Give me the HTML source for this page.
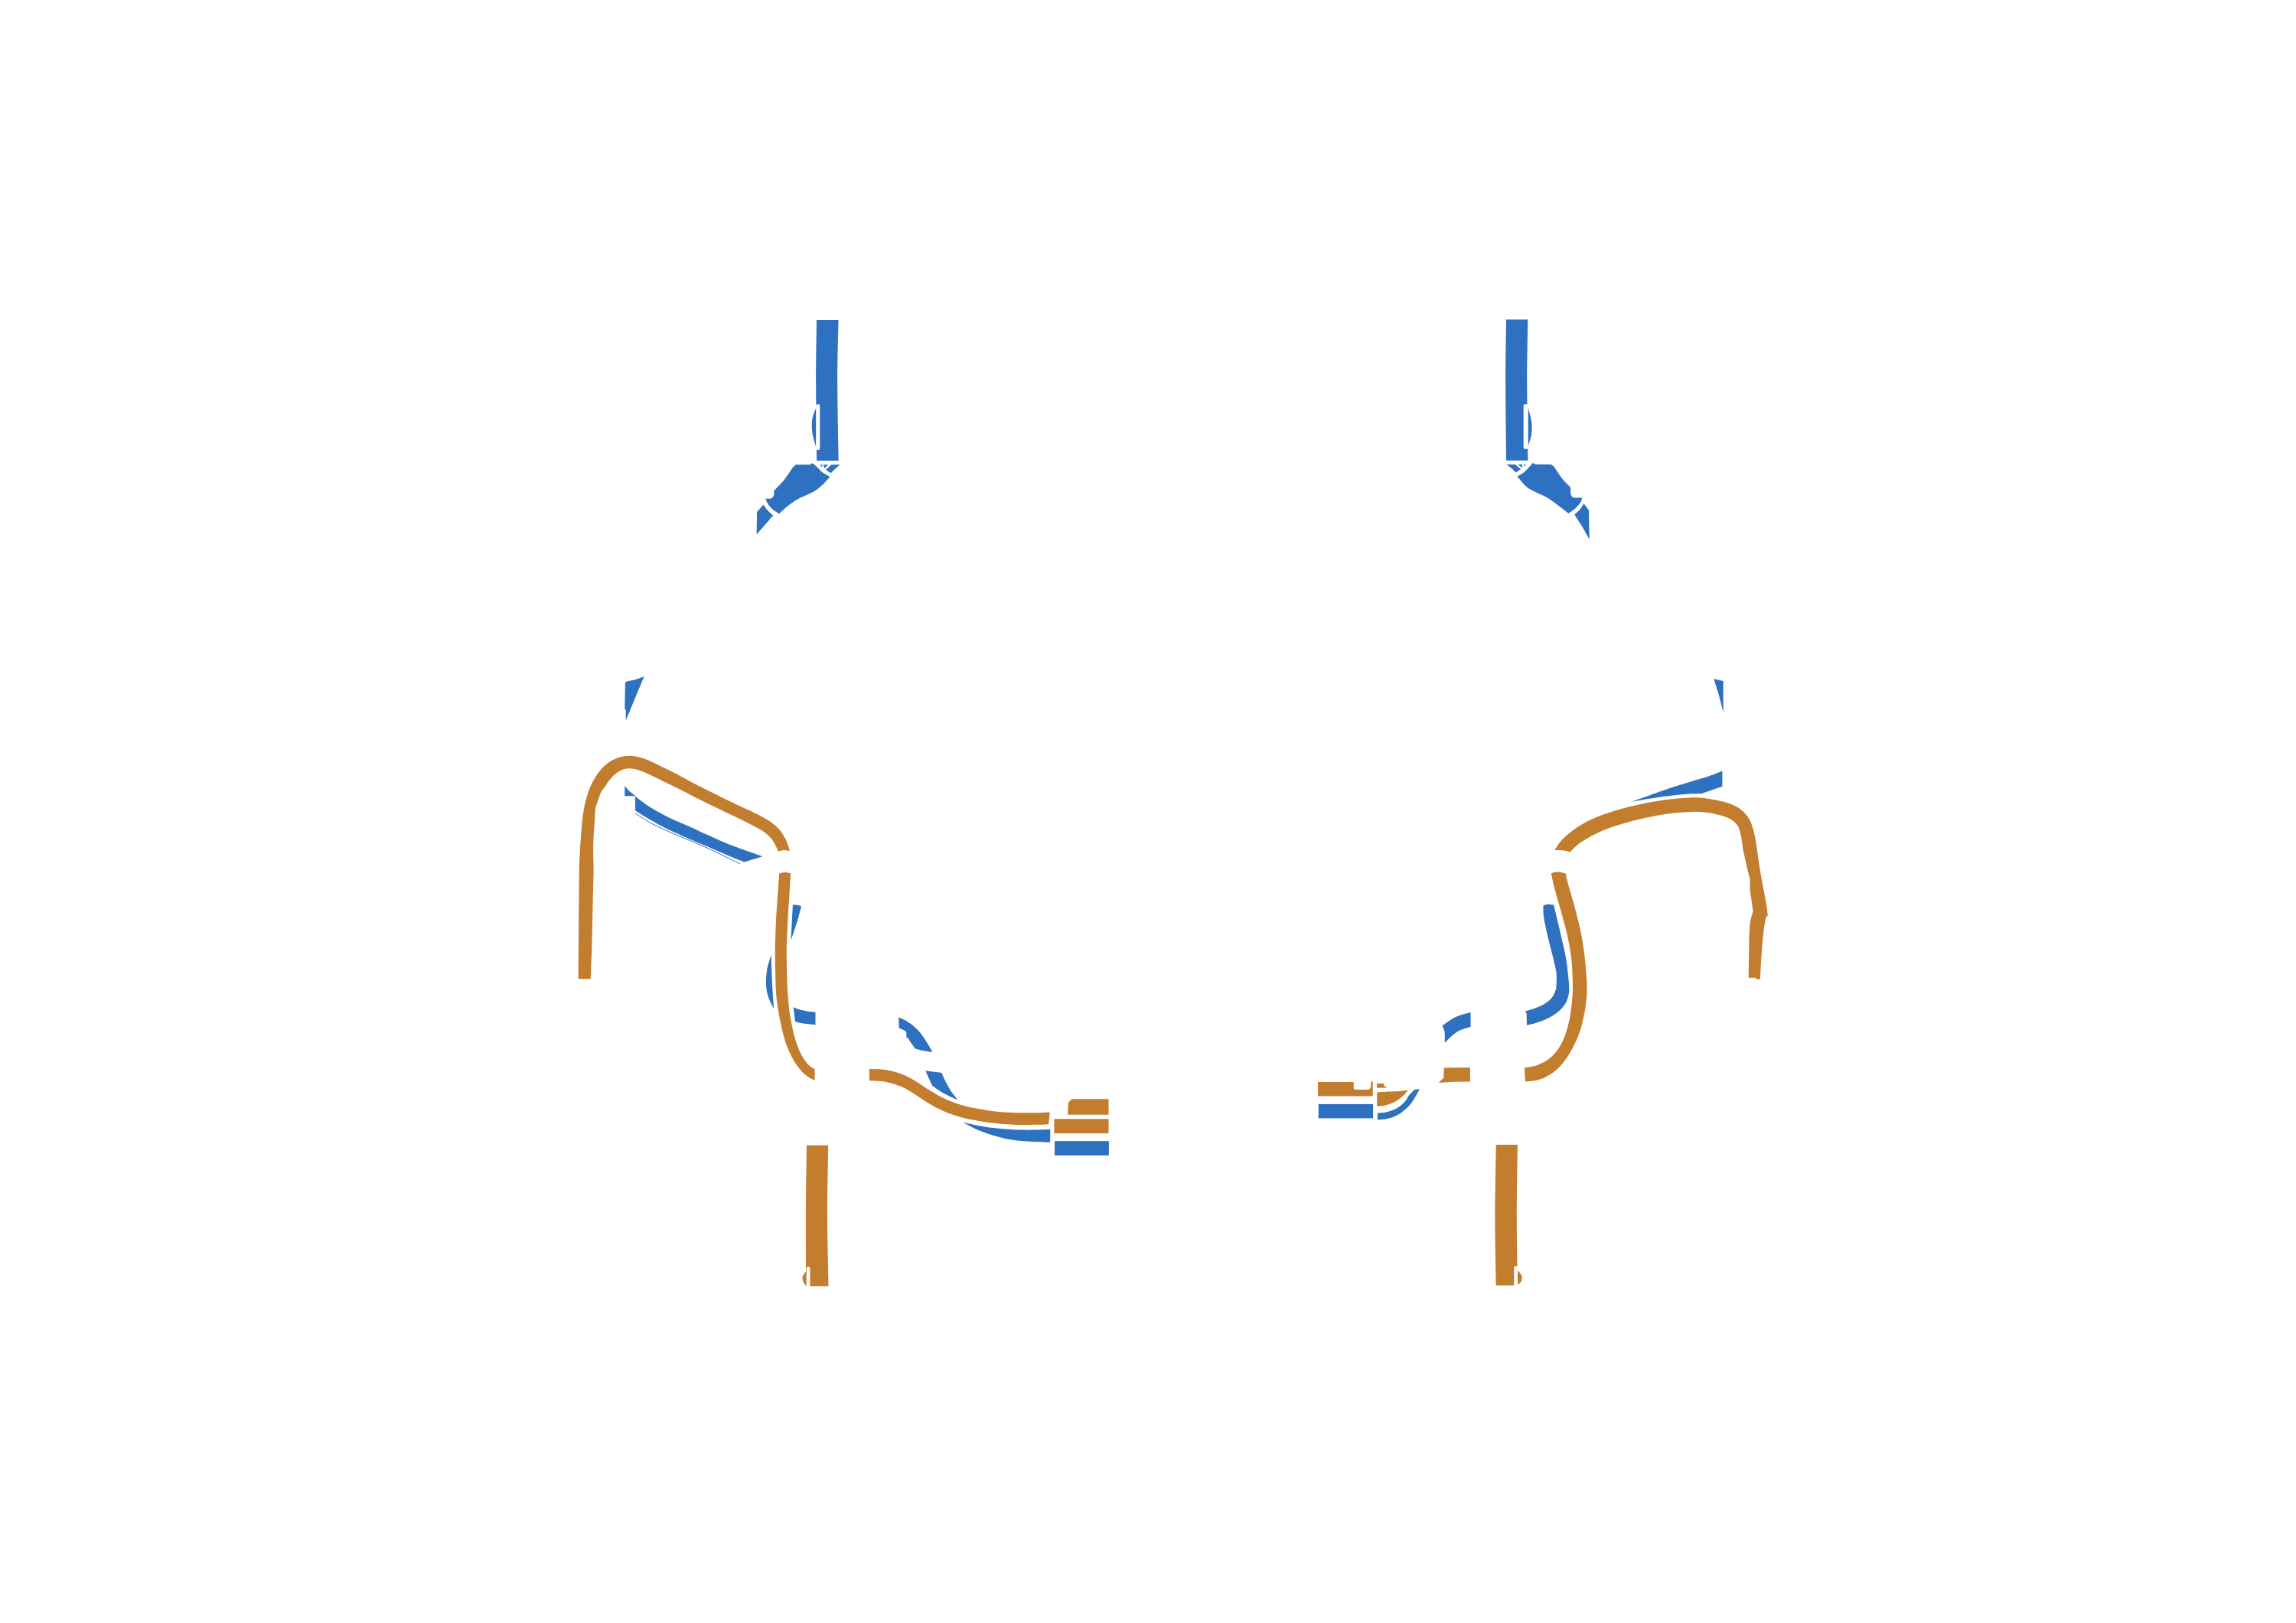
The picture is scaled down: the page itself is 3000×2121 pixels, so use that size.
<!DOCTYPE html>
<html lang="en"><head><meta charset="utf-8"><title>Diagram</title>
<style>html,body{margin:0;padding:0;background:#fff;font-family:"Liberation Sans",sans-serif}
body{width:3000px;height:2121px;overflow:hidden}svg{display:block}</style></head>
<body>
<svg width="3000" height="2121" viewBox="0 0 3000 2121">
<path d="M1067.0 418.0L1095.5 418.0L1095.5 418.0C1095.3 431.7 1094.2 469.3 1094.2 500.0C1094.2 530.7 1095.5 585.0 1095.7 602.0L1095.7 602.0L1067.2 602.0L1067.2 602.0C1067.0 585.0 1066.2 530.7 1066.2 500.0C1066.2 469.3 1066.9 431.7 1067.0 418.0Z" fill="#2e71c1" />
<path d="M1066.5 532.5C1065.6 535.1 1062.1 542.4 1061.3 548.0C1060.5 553.6 1060.6 559.8 1061.5 566.0C1062.4 572.2 1065.7 581.8 1066.5 585.0Z" fill="#2e71c1" />
<rect x="1066.2" y="528.2" width="5.1" height="59.7" rx="2" fill="#fff"/>
<path d="M1039.8 607.3C1039.0 608.1 1036.7 609.9 1034.9 612.2C1033.1 614.5 1031.0 618.3 1029.0 621.1C1027.0 623.9 1025.9 625.8 1023.1 629.0C1020.3 632.2 1014.0 638.4 1012.2 640.3L1011.3 641.8C1011.3 642.6 1011.6 645.3 1011.3 646.7C1010.9 648.1 1010.1 649.4 1009.3 650.2C1008.5 651.0 1007.8 651.4 1006.3 651.7C1004.8 651.9 1001.4 651.7 1000.4 651.7L1000.4 651.7C1000.9 652.8 1001.9 656.3 1003.4 658.6C1004.8 660.9 1007.0 663.4 1009.3 665.5C1011.6 667.5 1015.9 670.0 1017.2 670.9L1018.2 671.4C1020.0 669.7 1025.1 664.6 1029.0 661.5C1032.9 658.4 1036.9 655.4 1041.8 652.7C1046.7 649.9 1054.1 647.1 1058.6 644.8C1063.0 642.5 1065.5 641.0 1068.4 638.9C1071.4 636.7 1073.7 634.5 1076.3 632.0C1078.9 629.4 1082.9 625.0 1084.2 623.6L1084.2 623.1C1082.4 621.9 1076.3 618.5 1073.4 616.2C1070.4 613.9 1068.4 611.1 1066.5 609.3C1064.5 607.5 1062.3 606.0 1061.5 605.3L1058.6 607.3L1039.8 607.3Z" fill="#2e71c1" />
<path d="M997.5 659.6L989.1 668.9L988.6 698.5L1010.3 673.4L1010.3 673.4C1009.1 672.4 1005.5 669.7 1003.4 667.4C1001.2 665.1 998.4 660.9 997.5 659.6Z" fill="#2e71c1" />
<path d="M1086.2 607.3L1097.5 607.3L1090.1 613.7L1085.7 618.2L1078.8 614.0Z" fill="#2e71c1"/>
<path d="M1075.8 607.3L1082.2 607.3L1077.3 612.2Z" fill="#2e71c1"/>
<path d="M1071.4 607.3L1074.3 607.3L1074.3 610.8Z" fill="#2e71c1"/>
<path d="M1968.0 417.5L1996.3 417.5L1996.3 417.5C1996.1 431.2 1995.3 469.3 1995.3 500.0C1995.3 530.7 1996.3 584.8 1996.5 601.8L1996.5 601.8L1968.1 601.8L1968.1 601.8C1967.9 584.8 1967.2 530.7 1967.2 500.0C1967.2 469.3 1967.9 431.2 1968.0 417.5Z" fill="#2e71c1" />
<path d="M1996.3 532.0C1997.1 535.0 2000.2 544.0 2001.0 549.9C2001.8 555.8 2001.8 561.9 2001.0 567.6C2000.2 573.3 1997.1 581.3 1996.3 584.0Z" fill="#2e71c1" />
<rect x="1990.7" y="528.2" width="5.9" height="58.5" rx="2" fill="#fff"/>
<path d="M2003.1 604.8L2005.5 606.8L2005.5 606.8L2026.7 607.1L2026.7 607.1C2027.4 607.6 2029.0 608.3 2030.7 610.3C2032.3 612.3 2034.6 616.3 2036.6 619.1C2038.6 621.9 2040.0 624.1 2042.5 627.0C2045.1 630.0 2050.3 635.2 2051.9 636.9L2052.2 638.9C2052.2 639.8 2051.8 643.0 2052.2 644.8C2052.5 646.5 2053.3 648.3 2054.3 649.2C2055.4 650.2 2056.1 650.3 2058.3 650.5C2060.4 650.7 2065.7 650.5 2067.2 650.5L2067.2 650.5C2066.8 651.5 2066.7 654.3 2065.2 656.6C2063.7 658.9 2060.9 662.1 2058.3 664.5C2055.7 666.9 2050.9 669.8 2049.4 670.9L2049.4 670.9C2047.6 669.5 2042.8 665.7 2038.6 662.5C2034.3 659.3 2028.4 654.5 2023.8 651.7C2019.2 648.8 2015.1 647.3 2011.0 645.3C2006.9 643.2 2002.4 641.4 1999.1 639.3C1995.9 637.3 1994.0 635.7 1991.3 632.9C1988.5 630.1 1983.9 624.3 1982.4 622.6L1982.4 622.6C1983.9 621.7 1988.5 619.4 1991.3 617.2C1994.0 615.0 1997.2 611.3 1999.1 609.3C2001.1 607.2 2002.4 605.6 2003.1 604.8Z" fill="#2e71c1" />
<path d="M2069.4 658.1L2076.0 666.9L2076.8 704.9C2075.2 702.1 2070.4 693.6 2067.2 688.1C2063.9 682.7 2058.9 675.0 2057.3 672.4L2057.3 672.4C2058.4 671.3 2062.2 668.3 2064.2 666.0C2066.2 663.6 2068.6 659.4 2069.4 658.1Z" fill="#2e71c1" />
<path d="M1968.6 607.1L1979.9 607.1L1987.1 613.2L1980.4 617.5L1976.5 613.2Z" fill="#2e71c1"/>
<path d="M1983.4 607.1L1989.0 607.1L1989.0 611.3Z" fill="#2e71c1"/>
<path d="M1991.3 607.1L1994.2 607.1L1991.3 609.8Z" fill="#2e71c1"/>
<path d="M816.9 892.2L818.8 890.5L828.8 888.6L835.0 886.6L841.6 883.9L817.7 941.5L817.7 927.6L816.3 926.5Z" fill="#2e71c1"/>
<path d="M816.3 1027.3C817.5 1028.5 820.8 1032.5 823.2 1034.6C825.5 1036.8 829.3 1039.3 830.6 1040.2L816.3 1040.2Z" fill="#2e71c1" />
<path d="M829.8 1040.6C832.1 1042.3 838.0 1047.2 843.6 1050.9C849.2 1054.6 856.7 1059.1 863.3 1062.7C869.9 1066.3 876.4 1069.5 883.0 1072.6C889.6 1075.6 896.2 1078.1 902.7 1081.0C909.2 1083.9 913.4 1086.2 922.0 1090.1C930.6 1093.9 941.7 1099.2 954.1 1104.1C966.5 1109.0 989.4 1116.8 996.5 1119.3L972.5 1126.5C969.4 1125.3 962.5 1122.8 954.1 1119.3C945.7 1115.8 930.6 1109.0 922.0 1105.3C913.4 1101.6 909.2 1100.0 902.7 1097.2C896.2 1094.4 889.6 1091.4 883.0 1088.4C876.4 1085.4 869.9 1082.5 863.3 1079.0C856.7 1075.5 849.1 1071.0 843.6 1067.7C838.1 1064.4 832.4 1060.7 830.1 1059.3Z" fill="#2e71c1" />
<path d="M830.1 1063.0C833.3 1065.0 842.9 1071.4 849.5 1075.1C856.1 1078.8 863.2 1081.9 870.0 1085.0C876.8 1088.1 880.8 1089.8 890.0 1093.7C899.2 1097.6 912.2 1102.7 925.0 1108.6C937.8 1114.5 959.9 1125.5 966.9 1128.9" fill="none" stroke="#2e71c1" stroke-width="1.0" stroke-linecap="butt"/>
<path d="M1035.9 1182.5C1036.9 1182.5 1040.0 1182.4 1041.8 1182.7C1043.7 1182.9 1046.1 1183.9 1046.9 1184.1L1046.9 1184.1C1046.3 1186.9 1045.1 1192.9 1042.8 1200.4C1040.6 1207.9 1035.0 1224.2 1033.4 1229.0L1033.4 1229.0L1035.9 1182.5Z" fill="#2e71c1" />
<path d="M1007.6 1247.8C1006.7 1250.9 1003.5 1260.2 1002.4 1266.3C1001.3 1272.5 1000.8 1279.0 1000.9 1284.8C1001.1 1290.7 1001.7 1295.9 1003.4 1301.4C1005.0 1307.0 1009.8 1315.3 1011.1 1318.1L1011.1 1318.1C1010.7 1312.5 1009.5 1296.5 1008.9 1284.8C1008.3 1273.1 1007.8 1254.0 1007.6 1247.8Z" fill="#2e71c1" />
<path d="M1036.6 1316.3C1038.2 1316.9 1042.9 1318.9 1046.1 1319.8C1049.3 1320.7 1052.4 1321.2 1055.6 1321.7C1058.8 1322.2 1063.8 1322.4 1065.5 1322.6L1065.5 1339.3C1063.8 1339.1 1058.7 1338.7 1055.6 1338.3C1052.5 1337.9 1049.6 1337.5 1046.9 1337.0C1044.2 1336.5 1040.5 1335.6 1039.2 1335.3Z" fill="#2e71c1" />
<path d="M1174.3 1329.4C1175.6 1330.0 1179.4 1331.4 1182.1 1332.9C1184.8 1334.4 1187.8 1336.3 1190.7 1338.5C1193.6 1340.7 1196.8 1343.5 1199.4 1346.2C1202.0 1348.9 1204.2 1351.9 1206.3 1354.9C1208.4 1357.9 1210.2 1360.9 1212.3 1364.3C1214.3 1367.7 1217.5 1373.3 1218.6 1375.1L1218.6 1375.1C1216.5 1374.8 1210.1 1373.8 1206.3 1373.0C1202.5 1372.2 1197.6 1370.8 1195.9 1370.4L1195.9 1370.4L1188.1 1359.6L1187.3 1357.4L1184.3 1355.3L1184.3 1348.8L1182.1 1346.7L1174.5 1343.2Z" fill="#2e71c1" />
<path d="M1209.3 1399.3L1230.4 1401.9L1230.4 1401.9C1231.1 1403.6 1233.0 1408.3 1234.7 1411.8C1236.4 1415.3 1238.8 1419.7 1240.8 1423.0C1242.8 1426.3 1245.0 1429.2 1246.8 1431.6C1248.6 1434.0 1250.7 1436.5 1251.5 1437.5L1251.5 1437.5C1248.3 1436.0 1237.6 1431.3 1232.1 1428.2C1226.6 1425.1 1220.6 1420.6 1218.3 1419.1L1218.3 1419.1C1217.6 1417.6 1215.5 1413.3 1214.0 1410.0C1212.5 1406.7 1210.1 1401.1 1209.3 1399.3Z" fill="#2e71c1" />
<path d="M1258.2 1466.7C1264.0 1467.8 1280.0 1471.8 1292.7 1473.4C1305.4 1475.0 1321.3 1476.1 1334.5 1476.5C1347.8 1477.0 1365.9 1476.2 1372.2 1476.1L1372.2 1492.8C1367.6 1492.7 1354.7 1492.6 1345.0 1491.8C1335.2 1491.0 1324.1 1490.2 1313.6 1488.0C1303.2 1485.8 1291.5 1482.2 1282.2 1478.6C1273.0 1475.1 1262.2 1468.7 1258.2 1466.7Z" fill="#2e71c1" />
<rect x="1378" y="1491.2" width="70.9" height="18.8" fill="#2e71c1"/>
<path d="M2239.3 887.2L2251.7 889.9L2251.7 931.2C2250.7 927.3 2247.9 915.4 2245.8 908.1C2243.7 900.7 2240.4 890.6 2239.3 887.2Z" fill="#2e71c1" />
<path d="M2132.7 1047.6C2141.4 1044.5 2168.4 1034.6 2184.8 1029.1C2201.2 1023.6 2220.1 1018.5 2231.0 1014.9C2241.9 1011.3 2247.2 1008.7 2250.4 1007.5L2250.4 1027.8L2223.6 1037.0L2223.6 1037.0C2220.2 1037.2 2212.8 1037.0 2203.3 1037.8C2193.7 1038.6 2178.1 1040.4 2166.3 1042.0C2154.6 1043.7 2138.3 1046.7 2132.7 1047.6Z" fill="#2e71c1" />
<path d="M2016.4 1183.5C2016.6 1186.2 2016.2 1192.8 2017.3 1199.8C2018.4 1206.8 2020.8 1217.1 2022.8 1225.7C2024.8 1234.3 2027.5 1243.9 2029.3 1251.6C2031.1 1259.3 2032.9 1265.5 2033.6 1271.9C2034.3 1278.3 2033.6 1286.3 2033.4 1290.0C2033.2 1293.7 2033.2 1292.4 2032.5 1294.3C2031.8 1296.2 2031.0 1298.9 2029.5 1301.2C2028.0 1303.5 2025.9 1306.0 2023.5 1308.1C2021.1 1310.2 2018.1 1312.0 2014.9 1313.7C2011.7 1315.4 2008.2 1316.7 2004.5 1318.0C2000.8 1319.3 1994.8 1320.9 1992.9 1321.5L1994.6 1324.5L1995.0 1339.9C1996.9 1339.4 2002.3 1338.2 2006.2 1337.0C2010.1 1335.8 2014.3 1334.5 2018.3 1332.7C2022.3 1330.9 2026.8 1328.6 2030.4 1326.2C2034.0 1323.8 2037.2 1321.4 2039.9 1318.5C2042.6 1315.6 2045.1 1312.3 2046.8 1309.0C2048.4 1305.7 2049.2 1301.8 2049.8 1298.6C2050.4 1295.4 2050.3 1293.5 2050.2 1290.0C2050.1 1286.5 2050.0 1283.8 2049.3 1277.4C2048.6 1271.0 2047.6 1260.8 2046.0 1251.6C2044.4 1242.4 2042.1 1233.5 2039.5 1222.0C2036.9 1210.5 2031.8 1189.3 2030.2 1182.8L2030.2 1182.8C2029.0 1182.6 2025.1 1181.6 2022.8 1181.7C2020.5 1181.8 2017.5 1183.2 2016.4 1183.5Z" fill="#2e71c1" />
<path d="M1884.4 1340.5C1887.3 1338.5 1895.9 1331.9 1902.1 1329.0C1908.3 1326.1 1918.4 1324.0 1921.6 1323.0L1921.6 1341.8C1919.0 1342.7 1910.7 1344.9 1906.3 1347.1C1901.9 1349.4 1898.2 1352.9 1895.1 1355.5C1892.1 1358.1 1889.1 1361.5 1887.9 1362.8L1887.9 1362.8C1887.8 1360.4 1888.0 1352.3 1887.5 1348.5C1886.9 1344.8 1884.9 1341.8 1884.4 1340.5Z" fill="#2e71c1" />
<path d="M1799.9 1463.5C1801.2 1463.4 1804.8 1463.3 1807.9 1462.8C1811.0 1462.3 1814.8 1461.6 1818.3 1460.4C1821.8 1459.2 1825.5 1457.5 1828.8 1455.5C1832.0 1453.5 1835.2 1450.8 1837.8 1448.5C1840.3 1446.2 1842.3 1443.9 1844.1 1441.6C1845.9 1439.3 1847.3 1436.7 1848.6 1434.6C1849.9 1432.5 1850.8 1430.9 1851.8 1429.0C1852.8 1427.1 1854.4 1424.2 1854.9 1423.3L1854.9 1423.3C1853.9 1423.4 1850.3 1423.4 1848.6 1424.1C1846.9 1424.8 1846.0 1426.4 1844.8 1427.6C1843.6 1428.8 1842.5 1429.6 1841.3 1431.1C1840.1 1432.6 1839.3 1434.7 1837.8 1436.7C1836.3 1438.7 1834.5 1441.0 1832.3 1443.0C1830.1 1445.0 1827.5 1446.9 1824.6 1448.5C1821.7 1450.1 1817.8 1451.5 1814.8 1452.4C1811.8 1453.3 1809.0 1453.7 1806.5 1454.1C1804.0 1454.5 1801.0 1454.7 1799.9 1454.8Z" fill="#2e71c1" />
<rect x="1722.7" y="1442.9" width="71.4" height="18.5" fill="#2e71c1"/>
<path d="M755.7 1279.3C755.8 1266.1 756.1 1219.9 756.2 1200.0C756.4 1180.1 756.5 1170.8 756.6 1160.0C756.7 1149.2 756.6 1142.8 756.8 1135.0C757.0 1127.2 757.3 1121.6 757.8 1113.0C758.3 1104.4 759.0 1092.4 759.8 1083.4C760.6 1074.4 761.4 1066.3 762.7 1058.8C764.0 1051.2 765.7 1044.3 767.7 1038.1C769.7 1031.8 771.8 1026.6 774.6 1021.3C777.4 1016.0 780.8 1010.8 784.4 1006.5C788.0 1002.2 792.2 998.5 796.3 995.7C800.4 992.9 804.8 991.1 809.1 989.8C813.4 988.5 817.8 987.9 821.9 987.8C826.0 987.7 829.3 988.2 833.7 989.3C838.1 990.4 841.9 991.4 848.5 994.2C855.1 997.0 866.3 1002.7 873.2 1006.1C880.1 1009.5 883.2 1011.2 890.0 1014.8C896.8 1018.4 906.0 1023.5 914.0 1027.6C922.0 1031.7 930.0 1035.6 938.0 1039.6C946.0 1043.5 954.1 1047.5 962.1 1051.3C970.1 1055.1 979.4 1059.2 986.1 1062.5C992.8 1065.8 997.8 1068.4 1002.1 1070.9C1006.4 1073.4 1008.8 1075.2 1011.7 1077.7C1014.6 1080.2 1017.3 1082.6 1019.7 1085.7C1022.1 1088.8 1024.4 1092.8 1026.1 1096.1C1027.8 1099.4 1029.1 1103.0 1030.1 1105.7C1031.1 1108.4 1031.8 1111.0 1032.1 1112.1L1032.1 1112.1C1030.8 1111.9 1027.1 1110.9 1024.5 1111.0C1021.9 1111.1 1018.0 1112.2 1016.7 1112.5L1016.7 1112.5C1016.4 1111.8 1015.9 1110.1 1014.9 1108.1C1013.9 1106.1 1012.5 1103.0 1010.9 1100.5C1009.3 1098.0 1007.7 1095.7 1005.3 1093.3C1002.9 1090.9 1000.4 1088.6 996.5 1086.1C992.6 1083.6 987.8 1081.1 982.1 1078.1C976.4 1075.1 969.5 1071.7 962.1 1068.1C954.8 1064.5 946.0 1060.4 938.0 1056.5C930.0 1052.6 922.0 1048.8 914.0 1044.8C906.0 1040.8 896.8 1035.8 890.0 1032.4C883.2 1029.0 879.3 1027.3 873.2 1024.3C867.1 1021.3 859.1 1017.1 853.4 1014.4C847.6 1011.7 842.8 1009.5 838.7 1008.0C834.6 1006.5 831.8 1005.7 828.8 1005.1C825.8 1004.5 823.5 1004.1 820.9 1004.3C818.3 1004.5 815.8 1004.9 813.0 1006.1C810.2 1007.3 806.9 1009.3 804.1 1011.5C801.3 1013.7 798.6 1016.6 796.3 1019.4C794.0 1022.2 792.1 1025.6 790.3 1028.2C788.5 1030.8 786.9 1032.1 785.4 1035.1C783.9 1038.1 782.7 1042.4 781.5 1046.0C780.3 1049.6 778.8 1052.2 778.0 1056.8C777.2 1061.4 777.4 1067.5 777.0 1073.6C776.6 1079.7 775.9 1086.7 775.6 1093.3C775.3 1099.9 775.1 1106.0 775.1 1113.0C775.1 1120.0 775.6 1127.2 775.6 1135.0C775.6 1142.8 775.2 1153.5 775.1 1160.0C775.0 1166.5 775.0 1162.3 774.7 1174.0C774.4 1185.7 774.0 1212.5 773.5 1230.0C773.0 1247.5 772.1 1271.1 771.8 1279.3Z" fill="#c27d2e" />
<path d="M1018.2 1141.3C1017.9 1145.9 1016.9 1159.4 1016.2 1168.9C1015.5 1178.4 1014.7 1189.4 1014.2 1198.4C1013.7 1207.4 1013.5 1214.5 1013.2 1223.1C1013.0 1231.7 1012.6 1238.8 1012.7 1250.0C1012.8 1261.2 1013.3 1280.5 1013.7 1290.0C1014.1 1299.5 1014.4 1301.5 1015.0 1307.3C1015.6 1313.0 1016.6 1318.8 1017.6 1324.5C1018.6 1330.2 1019.8 1336.0 1021.1 1341.8C1022.4 1347.5 1023.8 1353.8 1025.4 1359.0C1027.0 1364.2 1028.6 1368.5 1030.5 1372.8C1032.4 1377.1 1034.4 1381.2 1036.6 1384.9C1038.8 1388.6 1041.2 1392.2 1043.5 1395.2C1045.8 1398.2 1048.1 1400.8 1050.4 1403.0C1052.7 1405.2 1054.9 1406.7 1057.3 1408.2C1059.7 1409.7 1063.4 1411.2 1064.6 1411.8L1064.6 1397.0C1063.7 1396.5 1060.9 1395.6 1059.0 1394.0C1057.1 1392.4 1055.0 1390.2 1053.0 1387.5C1051.0 1384.8 1048.8 1381.6 1046.9 1378.0C1045.0 1374.4 1043.4 1370.2 1041.8 1365.9C1040.2 1361.6 1038.7 1357.0 1037.4 1352.1C1036.1 1347.2 1035.0 1341.8 1034.0 1336.6C1033.0 1331.4 1032.1 1326.3 1031.4 1321.1C1030.7 1315.9 1030.3 1310.7 1029.9 1305.5C1029.5 1300.3 1029.2 1299.2 1028.8 1290.0C1028.4 1280.8 1027.9 1260.3 1027.8 1250.0C1027.7 1239.7 1027.9 1236.6 1028.2 1228.0C1028.5 1219.4 1029.0 1208.2 1029.5 1198.4C1030.0 1188.6 1030.9 1178.4 1031.5 1168.9C1032.1 1159.4 1032.8 1145.9 1033.1 1141.3L1033.1 1141.3C1031.9 1141.1 1028.2 1140.0 1025.7 1140.0C1023.2 1140.0 1019.5 1141.1 1018.2 1141.3Z" fill="#c27d2e" />
<path d="M1135.9 1397.1C1139.4 1397.3 1149.8 1397.1 1156.8 1398.1C1163.8 1399.2 1171.4 1401.1 1177.7 1403.4C1184.0 1405.6 1188.2 1408.1 1194.4 1411.7C1200.7 1415.4 1208.4 1421.1 1215.3 1425.3C1222.3 1429.5 1228.6 1433.4 1236.3 1436.8C1243.9 1440.2 1251.9 1443.1 1261.3 1445.6C1270.8 1448.0 1282.2 1450.0 1292.7 1451.4C1303.2 1452.8 1313.6 1453.5 1324.1 1453.9C1334.5 1454.4 1347.5 1454.2 1355.4 1454.2C1363.4 1454.1 1369.0 1453.6 1371.7 1453.5L1370.1 1469.2C1367.6 1469.3 1363.1 1469.7 1355.4 1469.8C1347.8 1469.9 1334.5 1470.3 1324.1 1469.8C1313.6 1469.4 1303.2 1468.5 1292.7 1467.1C1282.2 1465.7 1270.8 1463.7 1261.3 1461.5C1251.9 1459.2 1243.9 1456.6 1236.3 1453.5C1228.6 1450.5 1222.3 1447.1 1215.3 1443.1C1208.4 1439.1 1200.7 1433.3 1194.4 1429.5C1188.2 1425.7 1184.0 1422.7 1177.7 1420.1C1171.4 1417.5 1163.8 1415.1 1156.8 1413.8C1149.8 1412.5 1139.4 1412.6 1135.9 1412.3Z" fill="#c27d2e" />
<path d="M1400.4 1436.2L1448.5 1436.2L1448.5 1456.7L1395.2 1456.7L1395.8 1441.0Z" fill="#c27d2e"/>
<rect x="1377.4" y="1462.3" width="71.1" height="18.8" fill="#c27d2e"/>
<path d="M1054.0 1496.8L1082.2 1496.8L1082.2 1496.8C1082.0 1512.3 1080.9 1559.3 1081.0 1590.0C1081.1 1620.7 1082.3 1665.9 1082.6 1681.1L1082.6 1681.1L1053.2 1681.1L1053.2 1681.1C1053.2 1665.9 1052.8 1620.7 1052.9 1590.0C1053.0 1559.3 1053.8 1512.3 1054.0 1496.8Z" fill="#c27d2e" />
<path d="M1054.0 1660.0C1053.2 1661.3 1049.7 1665.5 1048.9 1668.0C1048.2 1670.5 1048.7 1672.8 1049.5 1675.0C1050.3 1677.2 1053.2 1680.0 1054.0 1681.0Z" fill="#c27d2e" />
<path d="M1053.7 1682V1658a2.4 2.4 0 0 1 4.8 0V1682Z" fill="#fff"/>
<path d="M2031.3 1111.0C2032.6 1109.1 2036.0 1103.2 2039.2 1099.5C2042.4 1095.8 2046.2 1092.1 2050.7 1088.5C2055.2 1084.9 2060.2 1081.3 2066.0 1077.9C2071.8 1074.5 2078.5 1071.2 2085.2 1068.3C2091.9 1065.4 2098.7 1063.1 2106.2 1060.7C2113.7 1058.3 2122.2 1056.0 2130.2 1054.0C2138.2 1052.0 2146.2 1050.2 2154.2 1048.7C2162.2 1047.2 2170.5 1045.9 2178.1 1044.9C2185.7 1044.0 2193.6 1043.4 2200.0 1043.0C2206.4 1042.6 2211.0 1042.1 2216.6 1042.3C2222.2 1042.5 2227.8 1043.1 2233.3 1043.9C2238.9 1044.7 2245.3 1046.1 2249.9 1047.2C2254.5 1048.3 2257.3 1049.0 2261.0 1050.5C2264.7 1052.0 2268.9 1054.0 2272.1 1056.1C2275.3 1058.2 2278.0 1060.6 2280.4 1063.3C2282.8 1066.0 2284.8 1068.9 2286.5 1072.1C2288.2 1075.3 2289.3 1079.1 2290.4 1082.7C2291.5 1086.3 2292.4 1089.7 2293.2 1093.8C2294.0 1097.9 2294.5 1101.4 2295.4 1107.6C2296.3 1113.8 2297.4 1122.8 2298.7 1130.9C2300.0 1139.0 2301.8 1148.7 2303.1 1156.1C2304.4 1163.5 2305.8 1169.6 2306.8 1175.3C2307.8 1181.0 2308.6 1186.4 2309.1 1190.0C2309.6 1193.6 2309.7 1195.6 2309.8 1196.7L2307.6 1198.2C2307.1 1201.0 2305.5 1208.7 2304.6 1215.2C2303.7 1221.7 2303.1 1229.2 2302.4 1237.3C2301.7 1245.4 2301.0 1256.8 2300.6 1263.9C2300.2 1271.0 2299.9 1277.1 2299.8 1279.7L2299.8 1279.7L2295.8 1279.7L2293.5 1277.7L2284.7 1277.7L2284.7 1277.7C2284.8 1271.0 2285.2 1247.7 2285.4 1237.3C2285.6 1226.9 2285.5 1221.1 2285.9 1215.2C2286.3 1209.3 2286.8 1206.0 2287.6 1201.9C2288.4 1197.8 2290.1 1192.7 2290.6 1190.8L2290.6 1190.8C2290.2 1188.2 2289.1 1180.1 2288.4 1175.3C2287.7 1170.5 2286.9 1166.4 2286.6 1162.0C2286.3 1157.6 2286.6 1150.9 2286.6 1148.7L2286.6 1148.7C2286.0 1146.5 2284.4 1140.3 2283.2 1135.4C2282.0 1130.5 2280.4 1123.3 2279.5 1119.1C2278.6 1114.9 2278.2 1113.7 2277.6 1110.4C2277.0 1107.1 2276.6 1102.7 2276.0 1099.3C2275.4 1095.9 2275.1 1093.0 2274.3 1089.9C2273.6 1086.9 2272.8 1083.6 2271.5 1081.0C2270.2 1078.4 2268.7 1076.4 2266.5 1074.4C2264.3 1072.4 2261.4 1070.6 2258.2 1069.1C2255.0 1067.6 2251.2 1066.3 2247.1 1065.2C2242.9 1064.1 2238.4 1062.9 2233.3 1062.2C2228.2 1061.5 2222.2 1060.9 2216.6 1060.8C2211.0 1060.7 2205.6 1061.2 2200.0 1061.6C2194.4 1062.0 2189.8 1062.2 2182.9 1063.1C2176.1 1064.0 2166.9 1065.4 2158.9 1066.9C2150.9 1068.4 2143.0 1070.1 2135.0 1072.2C2127.0 1074.3 2118.2 1076.9 2111.0 1079.3C2103.8 1081.7 2097.8 1083.9 2091.9 1086.5C2086.0 1089.1 2080.6 1091.9 2075.6 1094.7C2070.6 1097.5 2066.2 1100.2 2062.2 1103.3C2058.2 1106.4 2053.4 1111.7 2051.6 1113.4L2051.6 1113.4C2050.0 1113.1 2045.4 1111.7 2042.0 1111.3C2038.6 1110.9 2033.1 1111.0 2031.3 1111.0Z" fill="#c27d2e" />
<path d="M2026.9 1142.1C2027.6 1145.2 2029.1 1152.9 2031.2 1161.0C2033.3 1169.1 2036.7 1180.4 2039.5 1190.6C2042.3 1200.8 2045.5 1211.5 2047.8 1222.0C2050.1 1232.5 2052.1 1242.1 2053.3 1253.4C2054.5 1264.7 2054.9 1281.0 2055.0 1290.0C2055.1 1299.0 2054.6 1301.5 2054.1 1307.3C2053.6 1313.0 2052.9 1318.8 2052.0 1324.5C2051.1 1330.2 2049.9 1336.3 2048.5 1341.8C2047.0 1347.3 2045.3 1352.6 2043.3 1357.3C2041.3 1362.0 2039.0 1366.3 2036.4 1370.2C2033.8 1374.1 2030.8 1377.7 2027.8 1380.6C2024.8 1383.5 2021.6 1385.6 2018.3 1387.5C2015.0 1389.4 2011.3 1391.0 2008.0 1392.2C2004.7 1393.4 2001.2 1393.9 1998.5 1394.4C1995.8 1394.9 1993.1 1395.0 1992.0 1395.1L1992.9 1413.5C1994.8 1413.3 2000.5 1413.0 2004.5 1412.3C2008.5 1411.5 2012.6 1410.7 2016.6 1409.0C2020.6 1407.3 2025.0 1404.8 2028.7 1402.1C2032.4 1399.4 2035.5 1396.6 2039.0 1392.7C2042.5 1388.8 2046.2 1383.8 2049.4 1378.9C2052.6 1374.0 2055.4 1368.8 2058.0 1363.3C2060.6 1357.8 2063.0 1351.8 2064.9 1346.1C2066.8 1340.3 2068.0 1334.5 2069.2 1328.8C2070.4 1323.0 2071.5 1318.1 2072.2 1311.6C2072.9 1305.1 2073.7 1299.7 2073.5 1290.0C2073.3 1280.3 2072.1 1264.7 2070.9 1253.4C2069.7 1242.1 2068.3 1232.5 2066.3 1222.0C2064.3 1211.5 2061.5 1200.8 2058.9 1190.6C2056.3 1180.4 2052.8 1169.0 2050.6 1161.0C2048.4 1153.0 2046.7 1145.9 2045.9 1142.9L2045.9 1142.9C2045.8 1142.7 2047.2 1142.2 2045.4 1141.6C2043.6 1141.0 2038.3 1139.6 2035.3 1139.5C2032.3 1139.4 2028.6 1140.8 2027.2 1141.2C2025.8 1141.6 2027.0 1141.9 2026.9 1142.1Z" fill="#c27d2e" />
<path d="M1887.0 1395.6L1920.9 1395.0L1920.9 1413.6L1898.5 1413.7L1879.7 1414.9L1886.3 1408.5L1886.6 1396.3Z" fill="#c27d2e"/>
<path d="M1722 1414H1768.7V1421.6a2.5 2.5 0 0 0 2.5 2.5H1786.5a4.8 4.8 0 0 0 4.8 -4.8V1413.4H1793.7V1432.4H1722Z" fill="#c27d2e"/>
<path d="M1799.2 1427.6C1801.8 1427.4 1809.9 1426.9 1814.8 1426.6C1819.7 1426.3 1824.6 1426.2 1828.8 1425.9C1833.0 1425.6 1838.1 1425.0 1839.9 1424.8L1839.9 1424.8C1839.0 1425.8 1836.5 1429.1 1834.4 1431.1C1832.3 1433.1 1830.0 1435.0 1827.4 1436.7C1824.8 1438.5 1822.0 1440.3 1819.0 1441.6C1816.0 1442.9 1812.6 1444.0 1809.3 1444.7C1806.0 1445.4 1800.9 1445.5 1799.2 1445.7Z" fill="#c27d2e" />
<path d="M1799.0 1416.0L1807.9 1416.0L1807.9 1416.0C1808.0 1416.4 1808.1 1417.8 1808.6 1418.6C1809.1 1419.4 1809.7 1420.2 1810.7 1420.7C1811.7 1421.2 1814.1 1421.4 1814.8 1421.5L1799.0 1421.8Z" fill="#c27d2e" />
<path d="M1954.8 1496.0L1982.9 1496.0L1982.9 1496.0C1982.7 1511.7 1981.8 1559.4 1981.8 1590.0C1981.8 1620.6 1982.8 1664.8 1983.0 1679.8L1983.0 1679.8L1954.8 1679.8L1954.8 1679.8C1954.6 1664.8 1953.4 1620.6 1953.4 1590.0C1953.4 1559.4 1954.6 1511.7 1954.8 1496.0Z" fill="#c27d2e" />
<path d="M1982.6 1659.5C1983.5 1660.8 1987.3 1664.6 1988.2 1667.0C1989.1 1669.4 1988.9 1671.9 1988.0 1674.0C1987.1 1676.1 1983.5 1678.8 1982.6 1679.8Z" fill="#c27d2e" />
<path d="M1978.2 1681V1657a2.4 2.4 0 0 1 4.8 0V1681Z" fill="#fff"/>
</svg>
</body></html>
